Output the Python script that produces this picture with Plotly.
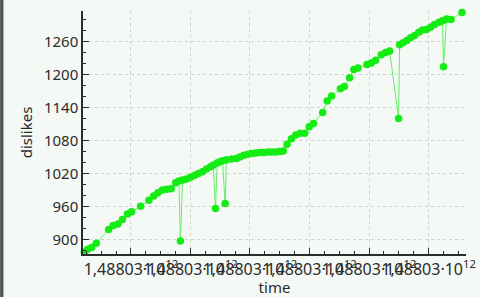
import plotly.graph_objects as go

time_ms = [
    1488030021637, 1488030027343, 1488030034055, 1488030041773, 1488030062581,
    1488030070299, 1488030078186, 1488030085737, 1488030094127, 1488030101175,
    1488030116277, 1488030130204, 1488030138258, 1488030145306, 1488030152857,
    1488030160408, 1488030167623, 1488030175174, 1488030180544, 1488030183061,
    1488030186753, 1488030193465, 1488030200177, 1488030206553, 1488030213265,
    1488030220313, 1488030227025, 1488030233737, 1488030238099, 1488030242127,
    1488030244811, 1488030249342, 1488030253873, 1488030258235, 1488030260585,
    1488030268975, 1488030277365, 1488030282902, 1488030289614, 1488030296326,
    1488030303038, 1488030309750, 1488030316462, 1488030323174, 1488030329886,
    1488030336598, 1488030343310, 1488030350022, 1488030355895, 1488030362271,
    1488030369655, 1488030376870, 1488030384421, 1488030391972, 1488030399523,
    1488030406571, 1488030422176, 1488030429727, 1488030437278, 1488030451877,
    1488030458589, 1488030467482, 1488030474530, 1488030481409, 1488030496511,
    1488030503895, 1488030511110, 1488030520675, 1488030527890, 1488030534602,
    1488030549704, 1488030551382, 1488030557255, 1488030563631, 1488030569840,
    1488030576552, 1488030583767, 1488030589976, 1488030596688, 1488030603400,
    1488030610112, 1488030617663, 1488030623536, 1488030625214, 1488030630248,
    1488030637799, 1488030656257,
]

dislikes = [
    877, 882, 885, 893, 918,
    925, 928, 936, 946, 950,
    960, 971, 979, 985, 990,
    991, 992, 1003, 1006, 897,
    1008, 1010, 1013, 1016, 1020,
    1023, 1028, 1032, 1035, 956,
    1039, 1041, 1043, 965, 1045,
    1046, 1047, 1050, 1053, 1055,
    1056, 1057, 1058, 1058, 1059,
    1059, 1059, 1060, 1061, 1073,
    1083, 1090, 1093, 1093, 1105,
    1111, 1131, 1152, 1161, 1174,
    1178, 1194, 1209, 1212, 1218,
    1221, 1226, 1236, 1240, 1243,
    1120, 1254, 1258, 1262, 1267,
    1271, 1277, 1281, 1282, 1286,
    1291, 1295, 1298, 1214, 1301,
    1300, 1313,
]

x_tick_vals = [1488030100000, 1488030200000, 1488030300000,
               1488030400000, 1488030500000, 1488030600000]
x_tick_text = ["1,48803·10<sup>12</sup>"] * len(x_tick_vals)
y_tick_vals = [900, 960, 1020, 1080, 1140, 1200, 1260]

x_range = [1488030019456, 1488030662969]
y_range = [873.3, 1315.6]

x_minor = [x_tick_vals[0] + 25000 * k for k in range(-3, 23)]
y_minor = [860 + 20 * k for k in range(0, 24)]

axis_color = "#2b2b2b"
font_family = "Noto Sans, Open Sans, sans-serif"

fig = go.Figure()
fig.add_trace(go.Scatter(
    x=time_ms, y=dislikes, mode="lines+markers",
    line=dict(color="#66ee66", width=1),
    marker=dict(color="#14ec14", size=7.5, line=dict(width=0)),
    cliponaxis=False, showlegend=False,
))

fig.update_layout(
    width=480, height=297,
    margin=dict(l=83, r=14, t=11, b=43, autoexpand=False),
    paper_bgcolor="#f5f9f5", plot_bgcolor="#f5f9f5",
    font=dict(family=font_family, size=15, color="#2b2b2b"),
    shapes=[dict(type="rect", xref="paper", yref="paper",
                 x0=-0.2164, x1=-0.2078, y0=-0.3, y1=1.1,
                 fillcolor="#4e534e", line=dict(width=0), layer="above")],
)

fig.update_xaxes(
    range=x_range, tickmode="array", tickvals=x_tick_vals, ticktext=x_tick_text,
    tickangle=0, ticks="inside", ticklen=6, tickwidth=1, tickcolor=axis_color,
    showline=True, linecolor=axis_color, linewidth=1.5,
    showgrid=True, gridcolor="#cfd3cf", griddash="dot", gridwidth=1,
    zeroline=False,
    minor=dict(tickmode="array", tickvals=x_minor, ticks="inside", ticklen=3,
               tickcolor=axis_color, showgrid=False),
    title=dict(text="time", font=dict(size=15), standoff=5),
    tickfont=dict(size=16),
)
fig.update_yaxes(
    range=y_range, tickmode="array", tickvals=y_tick_vals,
    ticks="inside", ticklen=6, tickwidth=1, tickcolor=axis_color,
    showline=True, linecolor=axis_color, linewidth=1.5,
    showgrid=True, gridcolor="#cfd3cf", griddash="dot", gridwidth=1,
    zeroline=False,
    minor=dict(tickmode="array", tickvals=y_minor, ticks="inside", ticklen=3,
               tickcolor=axis_color, showgrid=False),
    title=dict(text="dislikes", font=dict(size=15), standoff=8),
    tickfont=dict(size=15),
)

fig.write_html("out.html")
